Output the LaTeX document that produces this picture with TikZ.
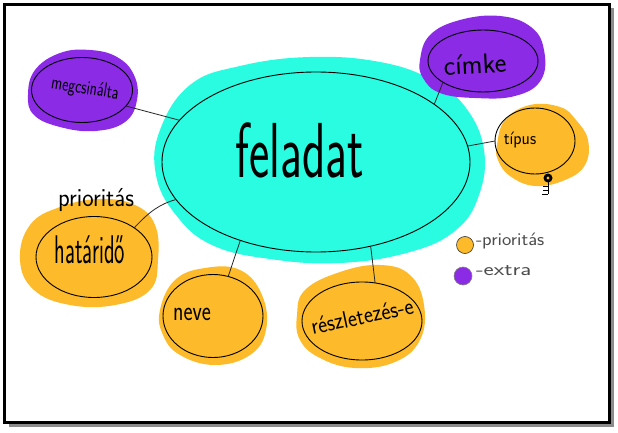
\documentclass[tikz,border=0pt]{standalone}
\usetikzlibrary{shapes.geometric}
\definecolor{cyanblob}{HTML}{2AFCE2}
\definecolor{purpblob}{HTML}{8B2BE6}
\definecolor{orblob}{HTML}{FDBA2A}
\tikzset{
  every node/.style={inner sep=0pt, outer sep=0pt},
  bubble/.style={ellipse, draw=black, line width=0.9pt},
  conn/.style={draw=black!85, line width=0.8pt},
  hand/.style={font=\sffamily, text=black},
  legtext/.style={font=\sffamily\fontsize{18}{18}\selectfont, text=black!70, anchor=west},
}
\begin{document}
\begin{tikzpicture}[x=1pt,y=-1pt]
\useasboundingbox (0,0) rectangle (618,433);
\fill[white] (0,0) rectangle (618,433);
% frame with shadow
\draw[black!45, line width=3pt] (9,425.5) -- (612.5,425.5) -- (612.5,8);
\draw[black, line width=3pt] (4.5,4.5) rectangle (609,422);

% blobs
\fill[cyanblob] plot[smooth cycle, tension=0.7] coordinates {(160,130) (190,85) (240,66) (310,57) (380,62) (432,80) (466,108) (484,150) (479,195) (456,230) (410,252) (340,263) (270,259) (212,245) (176,215) (156,175)};
\fill[purpblob] plot[smooth cycle, tension=0.7] coordinates {(28,95) (35,70) (60,53) (90,50) (117,57) (134,75) (137,100) (125,122) (95,131) (60,127) (34,115)};
\fill[purpblob] plot[smooth cycle, tension=0.7] coordinates {(420,60) (430,35) (460,20) (500,16) (531,27) (544,50) (541,80) (515,96) (475,98) (440,93) (423,78)};
\fill[orblob] plot[smooth cycle, tension=0.7] coordinates {(497,145) (505,120) (530,105) (560,107) (576,120) (588,140) (585,165) (565,180) (535,186) (510,176) (498,160)};
\fill[orblob] plot[smooth cycle, tension=0.7] coordinates {(20,260) (30,225) (60,207) (100,199) (135,205) (155,225) (158,260) (150,290) (115,305) (70,305) (34,290)};
\fill[orblob] plot[smooth cycle, tension=0.7] coordinates {(160,310) (175,280) (205,268) (240,270) (262,295) (266,330) (250,355) (215,365) (180,355) (163,335)};
\fill[orblob] plot[smooth cycle, tension=0.7] coordinates {(297,315) (305,290) (340,272) (380,265) (410,275) (424,305) (420,340) (395,362) (355,368) (320,358) (300,340)};

% bubbles
\node[bubble, minimum width=308pt, minimum height=180pt] (C) at (316,162) {};
\node[bubble, minimum width=101pt, minimum height=65pt] (M) at (82,90) {};
\node[bubble, minimum width=110pt, minimum height=62pt] (K) at (483,61) {};
\node[bubble, minimum width=80pt, minimum height=66pt] (T) at (535,141) {};
\node[bubble, minimum width=116pt, minimum height=81pt] (H) at (94,257) {};
\node[bubble, minimum width=100pt, minimum height=83pt] (N) at (213,316) {};
\node[bubble, minimum width=120pt, minimum height=78pt] (R) at (362,321) {};

% connectors
\draw[conn] (M.-20) -- (C.163);
\draw[conn] (K.208) -- (C.26);
\draw[conn] (T.180) -- (C.6);
\draw[conn] (H.36) .. controls (150,211) and (160,204) .. (C.195);
\draw[conn] (N.69) -- (C.226);
\draw[conn] (R.71) -- (C.303);

% texts
\node[hand] (tC) at (300,150) {\fontsize{78}{78}\selectfont\scalebox{0.62}[1]{feladat}};
\node[hand, rotate=-9] (tM) at (85,89) {\fontsize{20}{20}\selectfont\scalebox{0.74}[1]{megcsinálta}};
\node[hand, rotate=3] (tK) at (475,64) {\fontsize{28}{28}\selectfont címke};
\node[hand] (tT) at (520,140) {\fontsize{18}{18}\selectfont\scalebox{0.95}[1]{típus}};
\node[hand] (tP) at (96,200) {\fontsize{26}{26}\selectfont\scalebox{0.93}[1]{prioritás}};
\node[hand] (tH) at (90,250) {\fontsize{40}{40}\selectfont\scalebox{0.55}[1]{határidő}};
\node[hand] (tN) at (192,314) {\fontsize{28}{28}\selectfont\scalebox{0.77}[1]{neve}};
\node[hand, rotate=12] (tR) at (362,316) {\fontsize{24}{24}\selectfont\scalebox{0.9}[1]{részletezés-e}};

% small icon under típus
\fill[black] (548,178) circle (4.5);
\fill[orblob] (548,178) circle (1.6);
\draw[black, line width=0.8pt] (548,182) -- (548,194);
\draw[black, line width=0.7pt] (543,186) -- (548,186) (543,190) -- (548,190) (542,194) -- (548,194);

% legend
\node[circle, fill=orblob, draw=black!80, line width=0.6pt, minimum size=17pt] (L1) at (465,245) {};
\node[circle, fill=purpblob, draw=black!50, line width=0.6pt, minimum size=18pt] (L2) at (463,276) {};
\node[legtext] (L1t) at (476,241) {\scalebox{1.1}[1]{-prioritás}};
\node[legtext] (L2t) at (476,271) {\scalebox{1.35}[1]{-extra}};
\end{tikzpicture}
\end{document}
